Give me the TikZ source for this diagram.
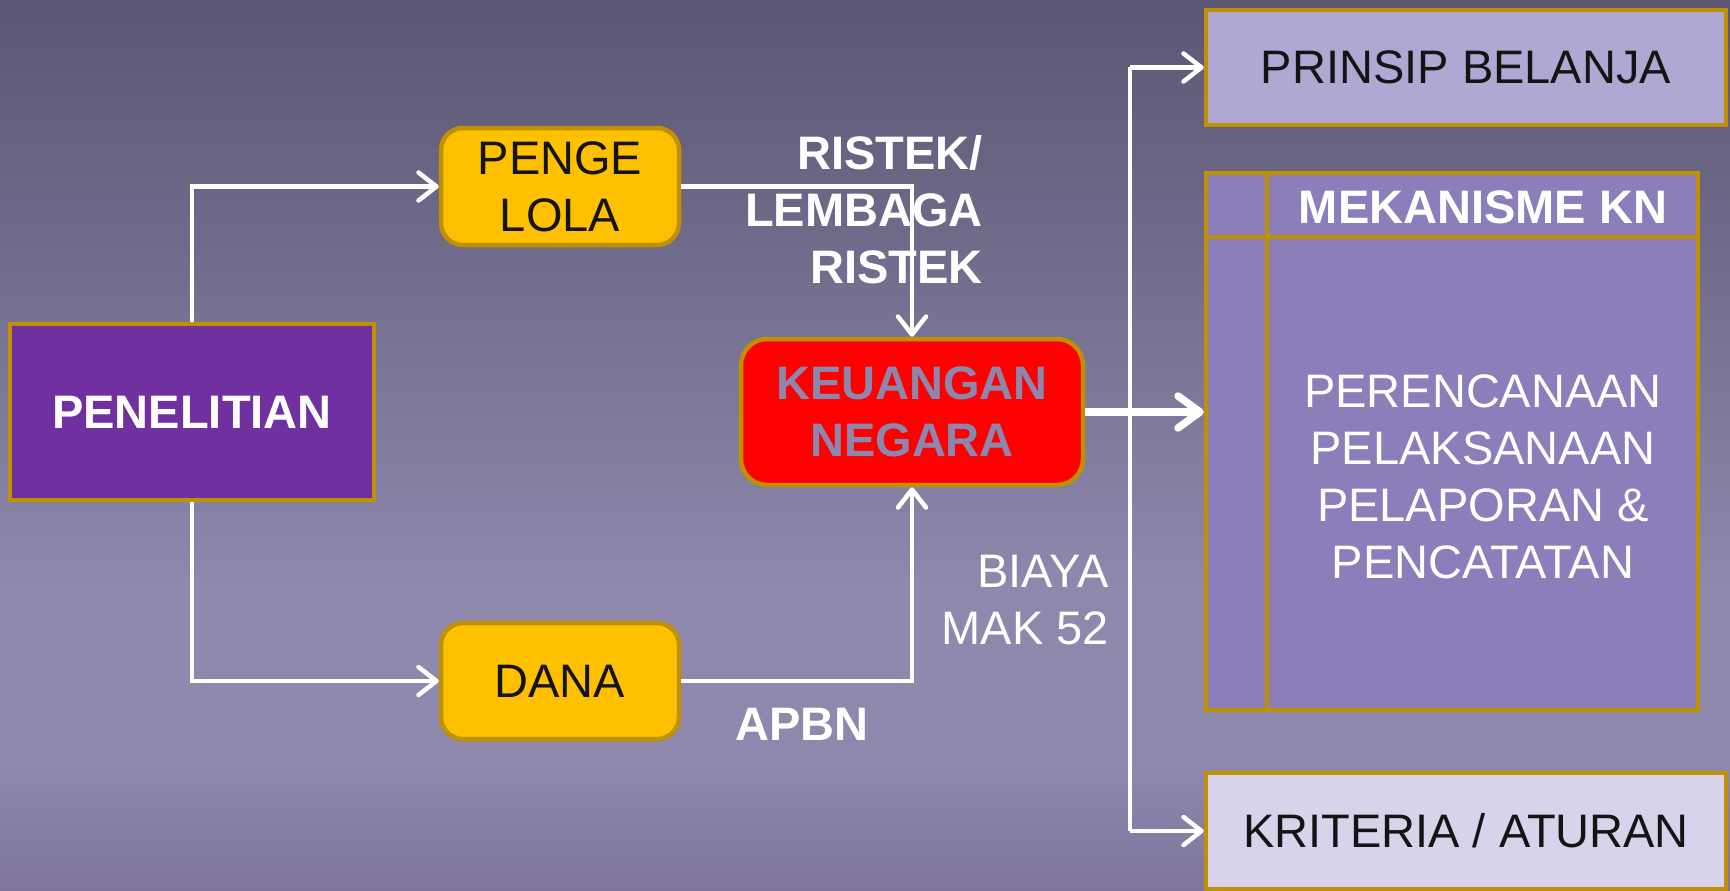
\documentclass[tikz,border=0pt]{standalone}
\usepackage{fontspec}
\setmainfont{Liberation Sans}
\usetikzlibrary{arrows.meta}
\definecolor{bgtop}{HTML}{5B5672}
\definecolor{bgmid}{HTML}{8E88AD}
\definecolor{bgbot}{HTML}{7E749D}
\definecolor{gold}{HTML}{BF9000}
\definecolor{amber}{HTML}{FFC000}
\definecolor{violet}{HTML}{7030A0}
\definecolor{lavA}{HTML}{B1A7D3}
\definecolor{lavB}{HTML}{8B7EBB}
\definecolor{lavC}{HTML}{D8D3EA}
\definecolor{keutext}{HTML}{8C87AE}
\definecolor{ink}{HTML}{141414}
\pgfdeclareverticalshading{bgshade}{100bp}{color(0bp)=(bgbot); color(25bp)=(bgbot); color(32bp)=(bgmid); color(42bp)=(bgmid); color(75bp)=(bgtop); color(100bp)=(bgtop)}
\begin{document}
\begin{tikzpicture}[x=1pt,y=-1pt,
  txt/.style={font=\fontsize{47}{57}\selectfont, align=center, inner sep=0pt},
  box/.style={txt, draw=gold, line width=4.5pt},
  rbox/.style={box, rounded corners=22pt},
  wire/.style={draw=white, line width=4.5pt},
  arr/.style={wire, -{Straight Barb[length=18pt,width=28pt,line cap=round,line join=round]}},
  bigarr/.style={draw=white, line width=7.5pt, -{Straight Barb[length=22pt,width=32pt,line cap=round,line join=round]}}
]
\useasboundingbox (0,0) rectangle (1730,891);
\shade[shading=bgshade] (0,0) rectangle (1730,891);

% nodes
\node[box, fill=violet, text=white, minimum width=364pt, minimum height=176pt, font=\fontsize{47}{57}\selectfont\bfseries] (pen) at (192,412) {PENELITIAN};
\node[rbox, fill=amber, text=ink, minimum width=238pt, minimum height=117pt] (penge) at (560,186.5) {PENGE\\LOLA};
\node[rbox, fill=amber, text=ink, minimum width=238pt, minimum height=116pt] (dana) at (560,681) {DANA};
\node[box, rounded corners=26pt, fill=red, text=keutext, minimum width=342pt, minimum height=146pt, font=\fontsize{47}{57}\selectfont\bfseries] (keu) at (912,412) {KEUANGAN\\NEGARA};

\node[box, fill=lavA, text=ink, minimum width=520pt, minimum height=115pt] (prinsip) at (1466,67.5) {PRINSIP BELANJA};
\node[box, fill=lavB, minimum width=492pt, minimum height=537pt] (mek) at (1452,441.5) {};
\draw[gold, line width=4.5pt] (1204,237) -- (1700,237) (1267,171) -- (1267,712);
\node[txt, text=white, font=\fontsize{47}{57}\selectfont\bfseries] (mekh) at (1483,207) {MEKANISME KN};
\node[txt, text=white] (mekb) at (1483,477) {PERENCANAAN\\PELAKSANAAN\\PELAPORAN \&\\PENCATATAN};
\node[box, fill=lavC, text=ink, minimum width=520pt, minimum height=116pt] (krit) at (1466,831) {KRITERIA / ATURAN};

% labels
\node[txt, text=white, align=right, anchor=east, font=\fontsize{47}{57}\selectfont\bfseries] (ristek) at (983,210) {RISTEK/\\LEMBAGA\\RISTEK};
\node[txt, text=white, font=\fontsize{47}{57}\selectfont\bfseries] (apbn) at (802,724) {APBN};
\node[txt, text=white, align=right, anchor=east] (biaya) at (1109,600) {BIAYA\\MAK 52};

% connectors
\draw[arr] (pen.north) |- (penge.west);
\draw[arr] (pen.south) |- (dana.west);
\draw[arr] (penge.east) -| (keu.north);
\draw[arr] (dana.east) -| (keu.south);
\coordinate (busT) at (1130,67.5);
\coordinate (busB) at (1130,831);
\draw[wire] (busT) -- (busB);
\draw[arr] (busT) -- (prinsip.west);
\draw[arr] (busB) -- (krit.west);
\draw[bigarr] (keu.east) -- (keu.east -| mek.west);
\end{tikzpicture}
\end{document}
